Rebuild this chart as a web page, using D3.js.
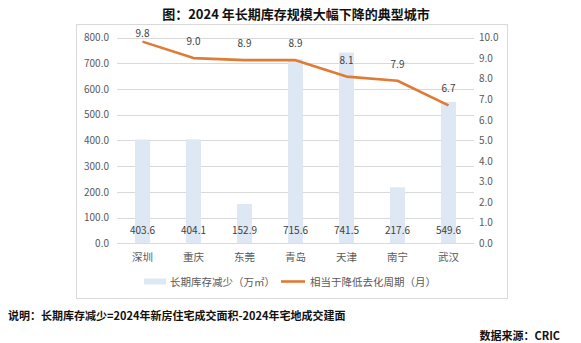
<!DOCTYPE html>
<html>
<head>
<meta charset="utf-8">
<script src="https://cdn.jsdelivr.net/npm/d3@7"></script>
<style>
  html, body { margin: 0; padding: 0; background: #fff; }
  svg { display: block; }
</style>
</head>
<body>
<svg id="chart" width="581" height="343"></svg>
<script>
// City names, inventory reduction (10k m²) and shortened destocking cycle (months)
const cities = ["深圳", "重庆", "东莞", "青岛", "天津", "南宁", "武汉"];
const inventoryDrop = [403.6, 404.1, 152.9, 715.6, 741.5, 217.6, 549.6];
const cycleDrop = [9.8, 9.0, 8.9, 8.9, 8.1, 7.9, 6.7];
const leftTicks = [0, 100, 200, 300, 400, 500, 600, 700, 800];
const rightTicks = [0, 1, 2, 3, 4, 5, 6, 7, 8, 9, 10];

const titleText = "图：2024 年长期库存规模大幅下降的典型城市";
const noteText = "说明：长期库存减少=2024年新房住宅成交面积-2024年宅地成交建面";
const sourceText = "数据来源：CRIC";
const legendBar = "长期库存减少（万㎡）";
const legendLine = "相当于降低去化周期（月）";

const font = "'Noto Sans CJK SC', 'Microsoft YaHei', sans-serif";
const textGray = "#595959";
const barColor = "#dde8f4";
const lineColor = "#e07b35";

const svg = d3.select("#chart");

// Title
svg.append("text")
  .attr("x", 296).attr("y", 18.5)
  .attr("text-anchor", "middle")
  .attr("font-family", font).attr("font-weight", "bold")
  .attr("font-size", 13).attr("fill", "#111")
  .text(titleText);

// Chart frame
svg.append("rect")
  .attr("x", 76.5).attr("y", 24.5)
  .attr("width", 431).attr("height", 274)
  .attr("fill", "#fff").attr("stroke", "#d9d9d9");

const plot = { left: 117, right: 474, top: 37.5, bottom: 243.3 };

const x = d3.scaleBand().domain(cities).range([plot.left, plot.right]).paddingInner(0).paddingOuter(0);
const yL = d3.scaleLinear().domain([0, 800]).range([plot.bottom, plot.top]);
const yR = d3.scaleLinear().domain([0, 10]).range([plot.bottom, plot.top]);

// Horizontal gridlines
svg.append("g").selectAll("line").data(leftTicks).join("line")
  .attr("x1", plot.left).attr("x2", plot.right)
  .attr("y1", d => Math.round(yL(d)) + 0.5).attr("y2", d => Math.round(yL(d)) + 0.5)
  .attr("stroke", "#d9d9d9").attr("stroke-width", 1);

// Left axis
const leftAxis = svg.append("g")
  .attr("transform", `translate(${plot.left - 8},0)`)
  .call(d3.axisLeft(yL).tickValues(leftTicks).tickFormat(d3.format(".1f")).tickSize(0).tickPadding(0));
leftAxis.select(".domain").remove();
leftAxis.selectAll("text")
  .attr("font-family", font).attr("font-size", 10).attr("fill", textGray);

// Right axis
const rightAxis = svg.append("g")
  .attr("transform", `translate(${plot.right + 5},0)`)
  .call(d3.axisRight(yR).tickValues(rightTicks).tickFormat(d3.format(".1f")).tickSize(0).tickPadding(0));
rightAxis.select(".domain").remove();
rightAxis.selectAll("text")
  .attr("font-family", font).attr("font-size", 10).attr("fill", textGray);

// Bars
const barW = 15;
svg.append("g").selectAll("rect").data(cities).join("rect")
  .attr("x", d => x(d) + x.bandwidth() / 2 - barW / 2)
  .attr("y", (d, i) => yL(inventoryDrop[i]))
  .attr("width", barW)
  .attr("height", (d, i) => yL(0) - yL(inventoryDrop[i]))
  .attr("fill", barColor);

// Bar value labels, near the base
svg.append("g").selectAll("text").data(cities).join("text")
  .attr("x", d => x(d) + x.bandwidth() / 2)
  .attr("y", plot.bottom - 9)
  .attr("text-anchor", "middle")
  .attr("font-family", font).attr("font-size", 10).attr("fill", "#404040")
  .text((d, i) => inventoryDrop[i].toFixed(1));

// Category labels
svg.append("g").selectAll("text").data(cities).join("text")
  .attr("x", d => x(d) + x.bandwidth() / 2)
  .attr("y", 261)
  .attr("text-anchor", "middle")
  .attr("font-family", font).attr("font-size", 10.5).attr("fill", textGray)
  .text(d => d);

// Line series
const line = d3.line()
  .x((d, i) => x(cities[i]) + x.bandwidth() / 2)
  .y(d => yR(d));
svg.append("path")
  .datum(cycleDrop)
  .attr("d", line)
  .attr("fill", "none")
  .attr("stroke", lineColor)
  .attr("stroke-width", 2.6)
  .attr("stroke-linejoin", "round");

// Line value labels, above the points
svg.append("g").selectAll("text").data(cycleDrop).join("text")
  .attr("x", (d, i) => x(cities[i]) + x.bandwidth() / 2)
  .attr("y", d => Math.max(yR(d) - 16.5, 33.5) + 3.5)
  .attr("text-anchor", "middle")
  .attr("font-family", font).attr("font-size", 10).attr("fill", "#404040")
  .text(d => d.toFixed(1));

// Legend
const lg = svg.append("g");
lg.append("rect").attr("x", 144).attr("y", 278.5).attr("width", 22).attr("height", 6).attr("fill", barColor);
lg.append("text").attr("x", 170).attr("y", 285.5)
  .attr("font-family", font).attr("font-size", 10.5).attr("fill", textGray)
  .text(legendBar);
lg.append("line").attr("x1", 281).attr("x2", 305).attr("y1", 281.5).attr("y2", 281.5)
  .attr("stroke", lineColor).attr("stroke-width", 2.6);
lg.append("text").attr("x", 310).attr("y", 285.5)
  .attr("font-family", font).attr("font-size", 10.5).attr("fill", textGray)
  .text(legendLine);

// Footnote and source
svg.append("text")
  .attr("x", 8).attr("y", 319.5)
  .attr("font-family", font).attr("font-weight", "bold")
  .attr("font-size", 11).attr("fill", "#111")
  .text(noteText);
svg.append("text")
  .attr("x", 560).attr("y", 340)
  .attr("text-anchor", "end")
  .attr("font-family", font).attr("font-weight", "bold")
  .attr("font-size", 11).attr("fill", "#111")
  .text(sourceText);
</script>
</body>
</html>
